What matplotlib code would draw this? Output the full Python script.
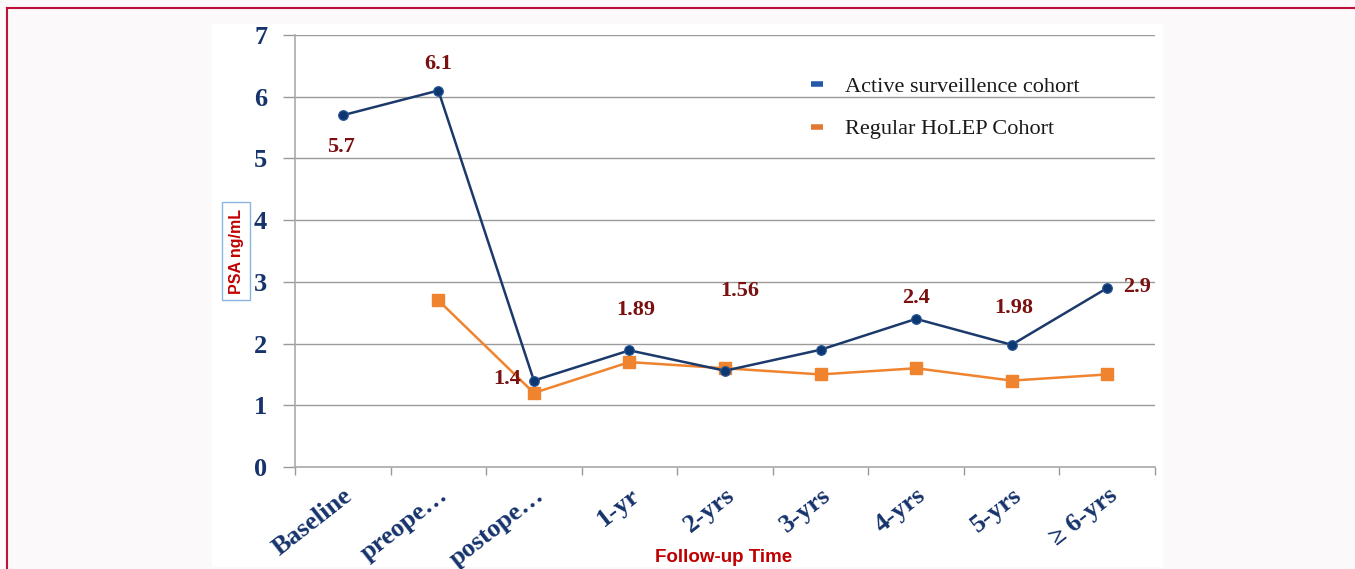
import matplotlib
matplotlib.use("Agg")
import matplotlib.pyplot as plt
from matplotlib.patches import Rectangle
from matplotlib.lines import Line2D

categories = ["Baseline", "preope…", "postope…", "1-yr", "2-yrs", "3-yrs",
              "4-yrs", "5-yrs", "≥ 6-yrs"]
active = [5.7, 6.1, 1.4, 1.89, 1.56, 1.9, 2.4, 1.98, 2.9]
regular = [None, 2.7, 1.2, 1.7, 1.6, 1.5, 1.6, 1.4, 1.5]
yticks = [0, 1, 2, 3, 4, 5, 6, 7]

# value labels shown on the active cohort line: (index, text, dx px, dy px)
value_labels = [(0, "5.7", -2, -32), (1, "6.1", 0, 27), (2, "1.4", -27, 2),
                (3, "1.89", 6, 40), (4, "1.56", 15, 80), (6, "2.4", 0, 21),
                (7, "1.98", 2, 37), (8, "2.9", 30, 1)]

W, H = 1355, 569
fig = plt.figure(figsize=(W / 100, H / 100), dpi=100)
fig.patch.set_facecolor("#fbf9fa")

# white chart panel
fig.patches.append(Rectangle((212 / W, 2 / H), (1163 - 212) / W, (567 - 24) / H,
                             transform=fig.transFigure, facecolor="white",
                             edgecolor="none", zorder=-5))
# red frame on the page
fig.lines.append(Line2D([7 / W, 7 / W], [0, 1 - 8 / H], transform=fig.transFigure,
                        color="#c0103a", lw=1.5, zorder=-4))
fig.lines.append(Line2D([7 / W, 1], [1 - 8 / H, 1 - 8 / H], transform=fig.transFigure,
                        color="#c0103a", lw=1.5, zorder=-4))

ax = fig.add_axes([295 / W, 1 - 467 / H, 860 / W, 432 / H])
ax.set_zorder(2)
ax.set_facecolor("none")

navy = "#1b3a6b"
orange = "#f0832e"
tick_color = "#16336b"
label_red = "#7a1010"

x = list(range(len(categories)))
ax.plot(x, active, color=navy, lw=1.8, marker="o", markersize=7,
        markerfacecolor="#0c3770", markeredgecolor="#2a5a9a", markeredgewidth=0.8,
        zorder=4)
xr = [i for i, v in zip(x, regular) if v is not None]
yr = [v for v in regular if v is not None]
ax.plot(xr, yr, color=orange, lw=1.8, marker="s", markersize=8,
        markerfacecolor=orange, markeredgecolor=orange, zorder=3)

for i, txt, dx, dy in value_labels:
    ax.annotate(txt, (i, active[i]), xytext=(dx, dy), textcoords="offset pixels",
                ha="center", va="center", fontsize=16, fontweight="bold",
                family="Liberation Serif", color=label_red, zorder=5)

ax.set_xlim(-0.5, len(categories) - 0.5)
ax.set_ylim(0, 7)
ax.set_yticks(yticks)
ax.set_yticklabels([str(t) for t in yticks], fontsize=19, fontweight="bold",
                   family="Liberation Serif", color=tick_color)
ax.tick_params(axis="y", length=9, width=1, color="#999999", pad=11)
ax.yaxis.grid(True, color="#9a9a9a", lw=1)
ax.set_axisbelow(True)

ax.set_xticks([i - 0.5 for i in range(len(categories) + 1)])
ax.set_xticklabels([])
ax.tick_params(axis="x", which="major", length=6, width=1, color="#999999")
ax.set_xticks(x, minor=True)
ax.set_xticklabels(categories, minor=True, rotation=38, ha="right",
                   rotation_mode="anchor", fontsize=19, fontweight="bold",
                   family="Liberation Serif", color=tick_color)
ax.tick_params(axis="x", which="minor", length=0, pad=12)

for s in ["top", "right"]:
    ax.spines[s].set_visible(False)
ax.spines["left"].set_color("#aaaaaa")
ax.spines["bottom"].set_color("#aaaaaa")
ax.spines["left"].set_linewidth(1.2)
ax.spines["bottom"].set_linewidth(1.2)

handles = [Line2D([], [], color="#2458a8", lw=4, solid_capstyle="butt"),
           Line2D([], [], color="#e07a32", lw=4, solid_capstyle="butt")]
ax.legend(handles, ["Active surveillence cohort", "Regular HoLEP Cohort"],
          loc="upper left", bbox_to_anchor=((811 - 295) / 860, (467 - 76) / 432),
          frameon=False, prop={"family": "Liberation Serif", "size": 16},
          handlelength=0.55, handletextpad=1.0, labelspacing=1.0,
          borderpad=0, borderaxespad=0, labelcolor="#1a1a1a")

fig.text(724 / W, 1 - 557 / H, "Follow-up Time", ha="center", va="center",
         fontsize=13.5, fontweight="bold", family="Liberation Sans", color="#c00000")
fig.text(236 / W, 1 - 251 / H, "PSA ng/mL", ha="center", va="center",
         rotation=90, fontsize=11.5, fontweight="bold", family="Liberation Sans",
         color="#c00000",
         bbox=dict(boxstyle="square,pad=0.4", facecolor="white",
                   edgecolor="#8ab4e0", lw=1))

fig.savefig("out.png", dpi=100)
